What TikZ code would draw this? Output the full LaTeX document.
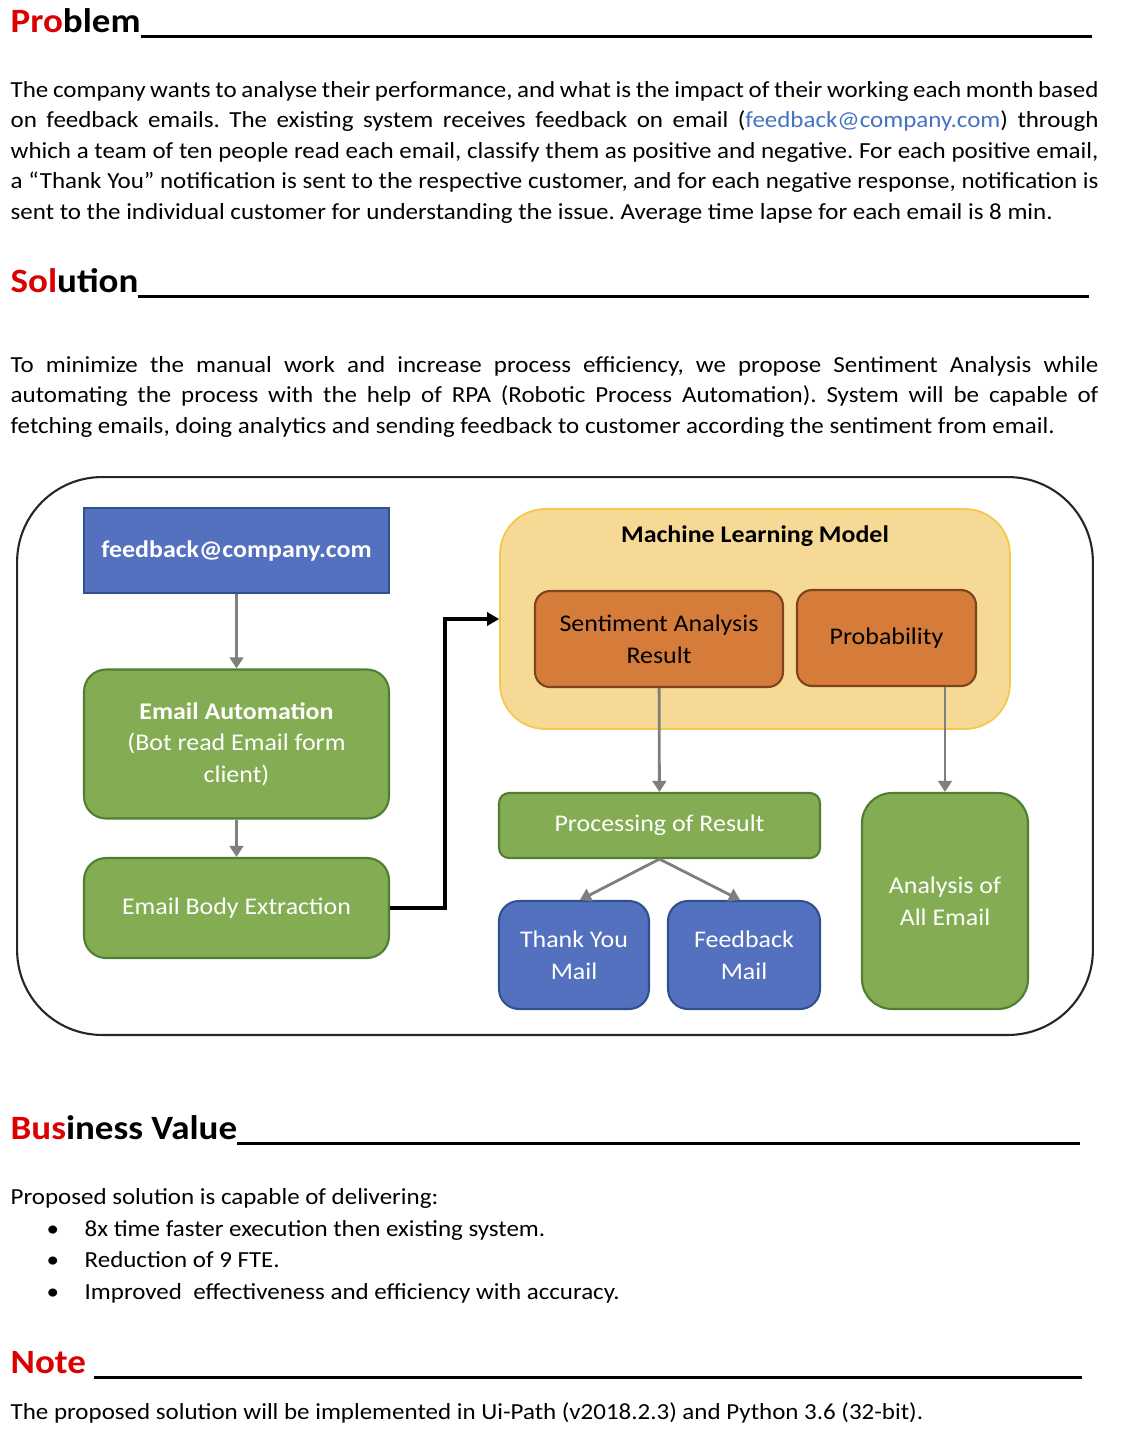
\documentclass[tikz,border=0pt]{standalone}
\usepackage{fontspec}
\setmainfont{Carlito}[FakeStretch=1.085]
\frenchspacing
\usepackage{tikz}
\usetikzlibrary{arrows,arrows.meta,shapes}
\definecolor{headred}{RGB}{220,0,0}
\definecolor{linkblue}{RGB}{68,114,196}
\definecolor{boxblue}{RGB}{84,113,192}
\definecolor{boxblueline}{RGB}{47,82,143}
\definecolor{boxgreen}{RGB}{132,172,83}
\definecolor{boxgreenline}{RGB}{80,126,50}
\definecolor{mlyellow}{RGB}{245,217,149}
\definecolor{mlyellowline}{RGB}{244,200,72}
\definecolor{boxorange}{RGB}{213,124,58}
\definecolor{boxorangeline}{RGB}{125,68,30}
\definecolor{arrowgray}{RGB}{127,127,127}
\tikzstyle{bodytext} = [anchor=base west, inner sep=0pt, text width=21.76cm, align=justify, font=\fontsize{13.1}{17.36}\selectfont]
\tikzstyle{plaintext} = [anchor=base west, inner sep=0pt, font=\fontsize{13.1}{17.36}\selectfont]
\tikzstyle{heading} = [anchor=base west, inner sep=0pt, font=\fontsize{19.4}{23}\selectfont\bfseries]
\tikzstyle{basicbox} = [draw, line width=1.2pt, align=center, text=white, inner sep=0pt]
\tikzstyle{bluebox} = [basicbox, fill=boxblue, draw=boxblueline]
\tikzstyle{greenbox} = [basicbox, fill=boxgreen, draw=boxgreenline, rounded corners=0.44cm]
\tikzstyle{orangebox} = [basicbox, fill=boxorange, draw=boxorangeline, text=black, rounded corners=0.3cm]
\tikzstyle{grayarrow} = [-{Triangle[length=0.22cm,width=0.27cm]}, color=arrowgray, line width=1.6pt]

\begin{document}
\begin{tikzpicture}[x=0.02cm, y=-0.02cm, >=latex', thick, font=\fontsize{13.6}{18}\selectfont]
        \useasboundingbox (0,0) rectangle (1142,1434);
        % problem
        \path[] node[heading] (probhead) at (10,32) {\makebox[21.64cm][l]{\textcolor{headred}{Pro}blem\leaders\hrule height -1.5pt depth 3.3pt\hfill}};
        \path[] node[bodytext] (probtext) at (10,97) {The company wants to analyse their performance, and what is the impact of their working each month based\linebreak
          on feedback emails. The existing system receives feedback on email (\textcolor{linkblue}{feedback@company.com}) through\linebreak
          which a team of ten people read each email, classify them as positive and negative. For each positive email,\linebreak
          a “Thank You” notification is sent to the respective customer, and for each negative response, notification is\linebreak
          sent to the individual customer for understanding the issue. Average time lapse for each email is 8 min.};
        % solution
        \path[] node[heading] (solhead) at (10,292) {\makebox[21.58cm][l]{\textcolor{headred}{Sol}ution\leaders\hrule height -1.5pt depth 3.3pt\hfill}};
        \path[] node[bodytext] (soltext) at (10,372) {To minimize the manual work and increase process efficiency, we propose Sentiment Analysis while\linebreak
          automating the process with the help of RPA (Robotic Process Automation). System will be capable of\linebreak
          fetching emails, doing analytics and sending feedback to customer according the sentiment from email.};
        % diagram
        \path[] node[draw=black!85, line width=1.2pt, rounded corners=1.7cm, minimum width=21.52cm, minimum height=11.16cm] (frame) at (555,756) {};
        \path[] node[bluebox, minimum width=6.1cm, minimum height=1.7cm, font=\fontsize{13.6}{18}\selectfont\bfseries] (mail) at (236.5,550.5) {feedback@company.com};
        \path[] node[greenbox, minimum width=6.1cm, minimum height=2.98cm] (auto) at (236.5,744) {\textbf{Email Automation}\\(Bot read Email form\\client)};
        \path[] node[greenbox, minimum width=6.1cm, minimum height=2cm] (body) at (236.5,908) {Email Body Extraction};
        \path[] node[basicbox, fill=mlyellow, draw=mlyellowline, line width=1pt, rounded corners=0.9cm, minimum width=10.2cm, minimum height=4.4cm] (ml) at (755,619) {};
        \path[] node[inner sep=0pt, font=\fontsize{13.6}{18}\selectfont\bfseries] (mltitle) at (755,536) {Machine Learning Model};
        \path[] node[orangebox, minimum width=4.96cm, minimum height=1.92cm] (sent) at (659,639) {Sentiment Analysis\\Result};
        \path[] node[orangebox, minimum width=3.58cm, minimum height=1.92cm] (prob) at (886.5,638) {Probability};
        \path[] node[greenbox, rounded corners=0.2cm, minimum width=6.42cm, minimum height=1.3cm] (proc) at (659.5,825.5) {Processing of Result};
        \path[] node[bluebox, rounded corners=0.4cm, minimum width=3cm, minimum height=2.16cm] (thanks) at (574,955) {Thank You\\Mail};
        \path[] node[bluebox, rounded corners=0.4cm, minimum width=3.04cm, minimum height=2.16cm] (fbmail) at (744,955) {Feedback\\Mail};
        \path[] node[greenbox, rounded corners=0.6cm, minimum width=3.32cm, minimum height=4.32cm] (analysis) at (945,901) {Analysis of\\All Email};
        \path[] (mail) edge[grayarrow] (auto);
        \path[] (auto) edge[grayarrow] (body);
        \path[] (sent) edge[grayarrow] (proc);
        \path[] (prob.south -| analysis.north) edge[grayarrow] (analysis.north);
        \path[] (proc.south) edge[grayarrow] ([xshift=0.12cm]thanks.north);
        \path[] (proc.south) edge[grayarrow] ([xshift=-0.08cm]fbmail.north);
        \draw[-{Triangle[length=0.24cm,width=0.26cm]}, line width=1.8pt] (body.east) -- ++(55,0) |- (ml.west);
        % business value
        \path[] node[heading] (bushead) at (10,1139) {\makebox[21.4cm][l]{\textcolor{headred}{Bus}iness Value\leaders\hrule height -1.5pt depth 3.3pt\hfill}};
        \path[] node[plaintext] (busintro) at (10,1204) {Proposed solution is capable of delivering:};
        \path[] node[plaintext] (bullet1) at (46,1236) {•};
        \path[] node[plaintext] (value1) at (84,1236) {8x time faster execution then existing system.};
        \path[] node[plaintext] (bullet2) at (46,1267) {•};
        \path[] node[plaintext] (value2) at (84,1267) {Reduction of 9 FTE.};
        \path[] node[plaintext] (bullet3) at (46,1299) {•};
        \path[] node[plaintext] (value3) at (84,1299) {Improved\ \ effectiveness and efficiency with accuracy.};
        % note
        \path[] node[heading] (notehead) at (10,1373) {\makebox[21.44cm][l]{\textcolor{headred}{Note} \leaders\hrule height -1.5pt depth 3.3pt\hfill}};
        \path[] node[plaintext] (notetext) at (10,1419) {The proposed solution will be implemented in Ui-Path (v2018.2.3) and Python 3.6 (32-bit).};
      \end{tikzpicture}
\end{document}
